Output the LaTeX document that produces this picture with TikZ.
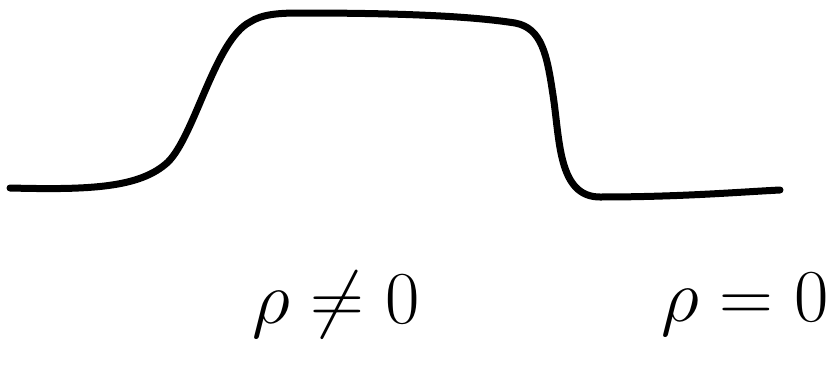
\documentclass[tikz,border=0pt]{standalone}
\begin{document}
\begin{tikzpicture}[x=1pt, y=-1pt]
      \tikzstyle{curve}=[line width=7pt, line cap=round, line join=round]
      \tikzstyle{lab}=[font=\Huge, scale=3, transform shape, inner sep=0pt]
      \useasboundingbox (0,0) rectangle (836,372);
      \draw[curve] (10,188) .. controls (90,190) and (140,188) .. (168,162)
        .. controls (195,135) and (215,40) .. (250,22)
        .. controls (262,14) and (280,13) .. (300,13)
        .. controls (400,13) and (470,16) .. (515,23)
        .. controls (542,28) and (547,55) .. (553,95)
        .. controls (560,140) and (558,197) .. (600,197)
        .. controls (680,197) and (740,192) .. (780,190);
      \node[lab] (nonzero) at (336,305) {$\rho \neq 0$};
      \node[lab] (zero) at (745,305) {$\rho = 0$};
    \end{tikzpicture}
\end{document}
